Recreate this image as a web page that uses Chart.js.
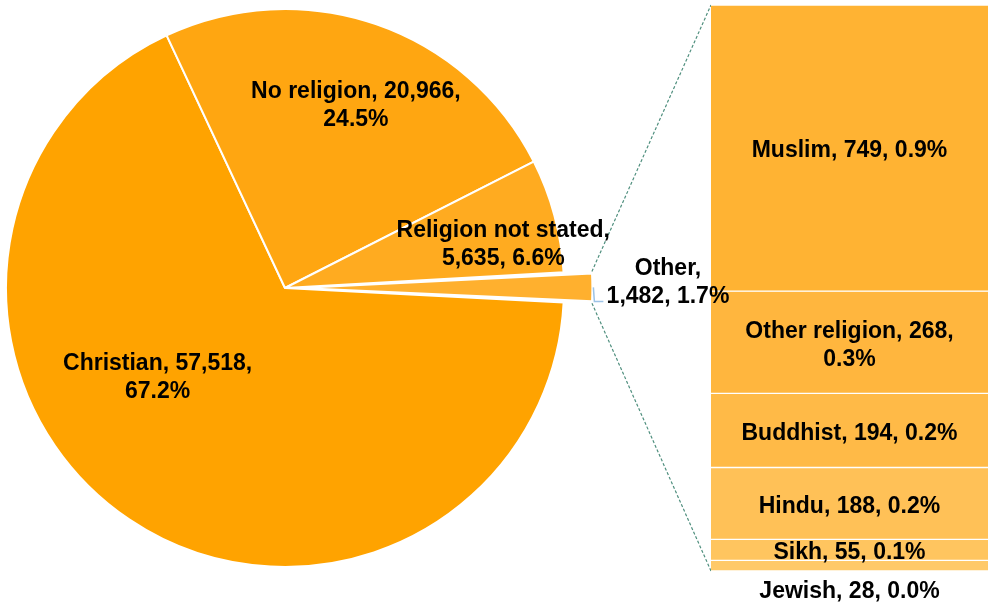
<!DOCTYPE html>
<html>
<head>
<meta charset="utf-8">
<script src="https://cdn.jsdelivr.net/npm/chart.js@4.4.1/dist/chart.umd.min.js"></script>
<style>
    html, body { margin: 0; padding: 0; background: #ffffff; }
    #wrap { position: relative; width: 995px; height: 605px; }
    #wrap canvas { position: absolute; left: 0; top: 0; }
</style>
</head>
<body>
<div id="wrap">
    <!-- bar underneath so the pie labels can run over it -->
    <canvas id="barCanvas" width="995" height="605"></canvas>
    <canvas id="pieCanvas" width="995" height="605"></canvas>
</div>
<script>
// pie: main groups (last one is split out into the bar)
const pieLabels = ['Christian', 'No religion', 'Religion not stated', 'Other'];
const pieValues = [57518, 20966, 5635, 1482];
const pieColors = ['#FFA300', '#FFA611', '#FFAB20', '#FFB02E'];

// bar: breakdown of "Other", top to bottom
const otherLabels = ['Muslim', 'Other religion', 'Buddhist', 'Hindu', 'Sikh', 'Jewish'];
const otherValues = [749, 268, 194, 188, 55, 28];
const otherColors = ['#FFB333', '#FFB63E', '#FFBA47', '#FFC157', '#FFC55F', '#FFC968'];

const grandTotal = pieValues.reduce((a, b) => a + b, 0);
const otherTotal = otherValues.reduce((a, b) => a + b, 0);

const FONT = 'bold 23px "Liberation Sans", Arial, sans-serif';
const LINE_H = 28;
const TEXT_DY = 3; // Excel sits the glyphs a bit lower than canvas 'middle'

function labelText(name, value) {
    const pct = (value / grandTotal * 100).toFixed(1);
    return `${name}, ${value.toLocaleString('en-US')}, ${pct}%`;
}

function wrapText(ctx, text, maxWidth) {
    const words = text.split(' ');
    const lines = [];
    let line = '';
    words.forEach(w => {
        const test = line ? line + ' ' + w : w;
        if (line && ctx.measureText(test).width > maxWidth) {
            lines.push(line);
            line = w;
        } else {
            line = test;
        }
    });
    if (line) lines.push(line);
    return lines;
}

function drawBlock(ctx, lines, cx, cy) {
    const top = cy - (lines.length - 1) * LINE_H / 2 + TEXT_DY;
    lines.forEach((l, i) => ctx.fillText(l, cx, top + i * LINE_H));
}

// label placement: angle shift from slice middle (deg), distance as share of radius, wrap width
const pieLabelPlace = [[21.7, 0.553, 240], [2, 0.71, 240], [3, 0.80, 240], [-1.2, 1.373, 130]];

// where chart.js actually paints an offset arc (offset/4 shift + radius grow)
function arcGeom(arc) {
    const t = (arc.options.offset || 0) / 4;
    const circ = arc.endAngle - arc.startAngle;
    const fix = 1 - Math.sin(Math.min(Math.PI, circ));
    const half = (arc.startAngle + arc.endAngle) / 2;
    return {
        cx: arc.x + Math.cos(half) * t,
        cy: arc.y + Math.sin(half) * t,
        r: arc.outerRadius + t * fix,
        half
    };
}

const pieLabelPlugin = {
    id: 'pieLabels',
    afterDatasetsDraw(chart) {
        const ctx = chart.ctx;
        const arcs = chart.getDatasetMeta(0).data;
        ctx.save();
        ctx.font = FONT;
        ctx.fillStyle = '#000000';
        ctx.textAlign = 'center';
        ctx.textBaseline = 'middle';
        arcs.forEach((arc, i) => {
            const [shift, frac, maxW] = pieLabelPlace[i];
            const ang = (arc.startAngle + arc.endAngle) / 2 + shift * Math.PI / 180;
            const d = arc.outerRadius * frac;
            const x = arc.x + Math.cos(ang) * d;
            const y = arc.y + Math.sin(ang) * d;
            const lines = wrapText(ctx, labelText(pieLabels[i], pieValues[i]), maxW);
            drawBlock(ctx, lines, x, y);
        });

        // leader line for the split slice
        const g = arcGeom(arcs[arcs.length - 1]);
        const px = g.cx + Math.cos(g.half) * g.r;
        const py = g.cy + Math.sin(g.half) * g.r;
        ctx.strokeStyle = '#9DC3E6';
        ctx.lineWidth = 1.5;
        ctx.beginPath();
        ctx.moveTo(px + 1, py);
        ctx.lineTo(px + 2, py + 14);
        ctx.lineTo(px + 11, py + 14);
        ctx.stroke();
        ctx.restore();
    }
};

const pieChart = new Chart(document.getElementById('pieCanvas').getContext('2d'), {
    type: 'pie',
    data: {
        labels: pieLabels,
        datasets: [{
            data: pieValues,
            backgroundColor: pieColors,
            borderColor: '#ffffff',
            borderWidth: 2,
            offset: [0, 0, 0, 60]
        }]
    },
    options: {
        responsive: false,
        animation: false,
        rotation: 93,
        radius: 279,
        layout: { padding: { left: 0, top: 0, right: 425, bottom: 29 } },
        plugins: {
            legend: { display: false },
            tooltip: { enabled: false }
        }
    },
    plugins: [pieLabelPlugin]
});

const barPlugin = {
    id: 'barExtras',
    beforeDatasetsDraw(chart) {
        // dashed connectors from the split slice to the bar
        const ctx = chart.ctx;
        const arcs = pieChart.getDatasetMeta(0).data;
        const arc = arcs[arcs.length - 1];
        const g = arcGeom(arc);
        const first = chart.getDatasetMeta(0).data[0];
        const last = chart.getDatasetMeta(otherValues.length - 1).data[0];
        const left = first.x - first.width / 2;
        const p1 = { x: g.cx + Math.cos(arc.startAngle) * g.r, y: g.cy + Math.sin(arc.startAngle) * g.r };
        const p2 = { x: g.cx + Math.cos(arc.endAngle) * g.r, y: g.cy + Math.sin(arc.endAngle) * g.r };
        ctx.save();
        ctx.strokeStyle = '#4F8F7E';
        ctx.lineWidth = 1.2;
        ctx.setLineDash([3, 2]);
        ctx.beginPath();
        ctx.moveTo(p1.x, p1.y);
        ctx.lineTo(left, Math.min(first.y, first.base));
        ctx.moveTo(p2.x, p2.y);
        ctx.lineTo(left, Math.max(last.y, last.base));
        ctx.stroke();
        ctx.restore();
    },
    afterDatasetsDraw(chart) {
        const ctx = chart.ctx;
        ctx.save();
        ctx.font = FONT;
        ctx.fillStyle = '#000000';
        ctx.textAlign = 'center';
        ctx.textBaseline = 'middle';
        otherValues.forEach((v, i) => {
            const el = chart.getDatasetMeta(i).data[0];
            const lines = wrapText(ctx, labelText(otherLabels[i], v), 240);
            let y = (el.y + el.base) / 2;
            if (i === otherValues.length - 1) {
                y = Math.max(el.y, el.base) + 18;
            }
            drawBlock(ctx, lines, el.x, y);
        });
        ctx.restore();
    }
};

new Chart(document.getElementById('barCanvas').getContext('2d'), {
    type: 'bar',
    data: {
        labels: ['Other'],
        datasets: otherLabels.map((name, i) => ({
            label: name,
            data: [otherValues[i]],
            backgroundColor: otherColors[i],
            borderColor: '#ffffff',
            borderWidth: { top: 1, bottom: 1, left: 0, right: 0 },
            borderSkipped: false,
            barPercentage: 1,
            categoryPercentage: 1
        }))
    },
    options: {
        responsive: false,
        animation: false,
        layout: { padding: { left: 711, right: 7, top: 5, bottom: 34 } },
        scales: {
            x: { display: false, stacked: true },
            y: { display: false, stacked: true, reverse: true, min: 0, max: otherTotal }
        },
        plugins: {
            legend: { display: false },
            tooltip: { enabled: false }
        }
    },
    plugins: [barPlugin]
});
</script>
</body>
</html>
